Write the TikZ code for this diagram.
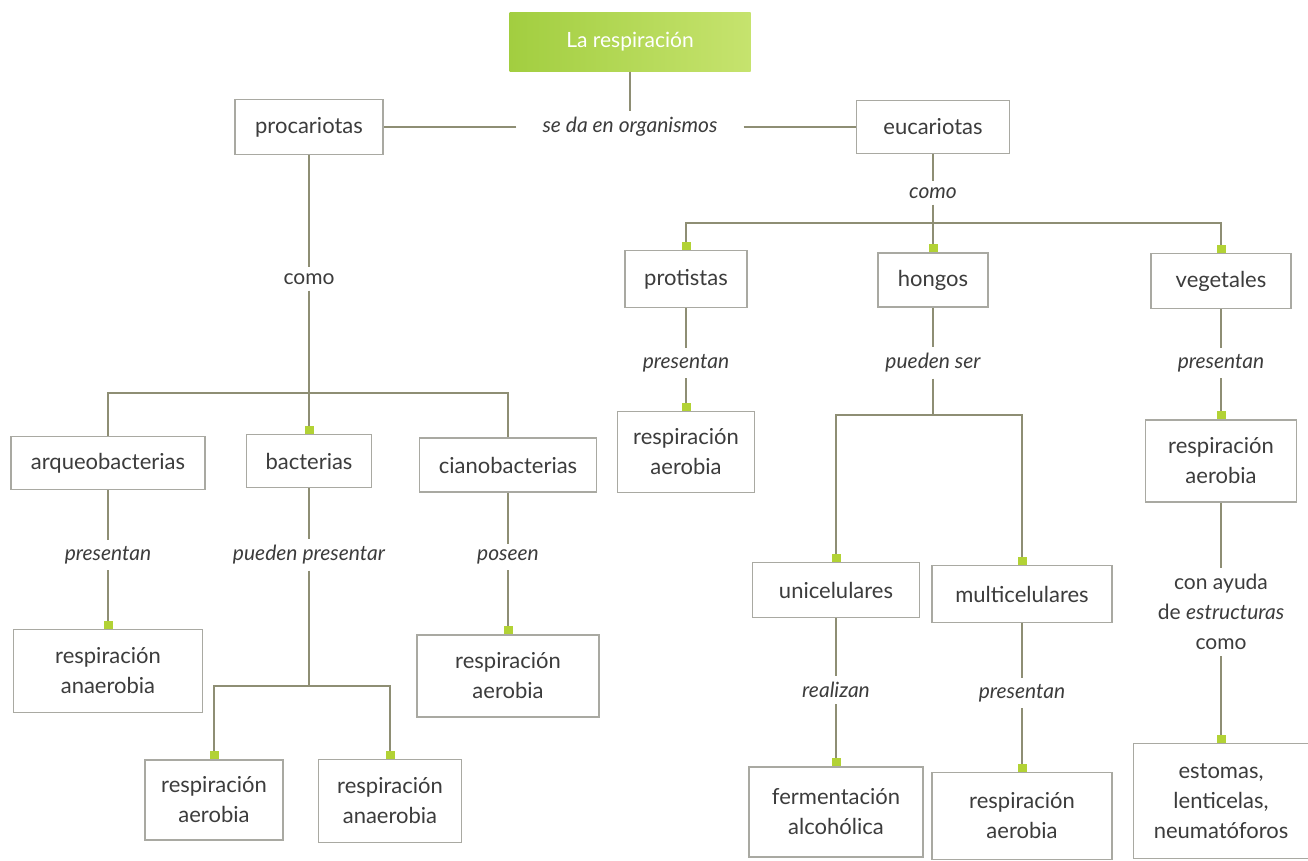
\documentclass[tikz,border=0pt]{standalone}
\usepackage{fontspec}
\setmainfont{Lato}
\usetikzlibrary{arrows.meta}
\definecolor{boxgray}{HTML}{A9A9A2}
\definecolor{wireolive}{HTML}{8E8E74}
\definecolor{tipgreen}{HTML}{B2D235}
\definecolor{inkgray}{HTML}{3C3C3C}
\definecolor{headdark}{HTML}{A2CE40}
\definecolor{headlight}{HTML}{C6E36E}
\tikzset{
  concept/.style={draw=boxgray, line width=1.2pt, fill=white, text=inkgray,
    align=center, inner sep=0pt, font=\fontsize{22}{30}\selectfont},
  heading/.style={left color=headdark, right color=headlight, text=white,
    minimum width=241pt, minimum height=59pt, font=\fontsize{21}{26}\selectfont},
  link/.style={text=inkgray, align=center, inner sep=6pt,
    font=\fontsize{21}{30}\selectfont\itshape},
  wire/.style={draw=wireolive, line width=1.2pt},
  into/.style={wire, -{Square[color=tipgreen, length=8pt, width=9pt]}},
}
\begin{document}
\begin{tikzpicture}[x=1pt,y=-1pt]
  \useasboundingbox[fill=white] (0,0) rectangle (1308,860);
  \node[heading] (titulo) at (630,42) {La respiración};
  \node[link, inner xsep=26pt] (seda) at (630,127) {se da en organismos};
  \node[concept, minimum width=148pt, minimum height=55pt] (procariotas) at (309,127) {procariotas};
  \node[concept, minimum width=153pt, minimum height=53pt] (eucariotas) at (933,127) {eucariotas};

  \node[link] (comoP) at (309,279) {\upshape como};
  \coordinate (barP) at (309,393);
  \node[concept, minimum width=194pt, minimum height=53pt] (arqueo) at (108,463) {arqueobacterias};
  \node[concept, minimum width=125pt, minimum height=53pt] (bacterias) at (309,461) {bacterias};
  \node[concept, minimum width=177pt, minimum height=54pt] (ciano) at (508,465) {cianobacterias};
  \node[link] (presArq) at (108,555) {presentan};
  \node[link] (puedenPres) at (309,555) {pueden presentar};
  \node[link] (poseen) at (508,557) {poseen};
  \node[concept, minimum width=189pt, minimum height=83pt] (anaerArq) at (108,671) {respiración\\anaerobia};
  \node[concept, minimum width=182pt, minimum height=82pt] (aerCiano) at (508,676) {respiración\\aerobia};
  \coordinate (barB) at (309,686);
  \node[concept, minimum width=138pt, minimum height=80pt] (aerBact) at (214,800) {respiración\\aerobia};
  \node[concept, minimum width=143pt, minimum height=83pt] (anaerBact) at (390,801) {respiración\\anaerobia};

  \node[link] (comoE) at (933,193) {como};
  \coordinate (barE) at (933,223);
  \node[concept, minimum width=122pt, minimum height=57pt] (protistas) at (686,279) {protistas};
  \node[concept, minimum width=110pt, minimum height=54pt] (hongos) at (933,280) {hongos};
  \node[concept, minimum width=140pt, minimum height=55pt] (vegetales) at (1221,281) {vegetales};
  \node[link] (presProt) at (686,363) {presentan};
  \node[link] (puedenSer) at (933,363) {pueden ser};
  \node[link] (presVeg) at (1221,363) {presentan};
  \node[concept, minimum width=137pt, minimum height=81pt] (aerProt) at (686,452) {respiración\\aerobia};
  \node[concept, minimum width=151pt, minimum height=82pt] (aerVeg) at (1221,461) {respiración\\aerobia};
  \coordinate (barH) at (933,415);
  \node[concept, minimum width=167pt, minimum height=55pt] (unicel) at (836,590) {unicelulares};
  \node[concept, minimum width=180pt, minimum height=57pt] (multicel) at (1022,594) {multicelulares};
  \node[link] (realizan) at (836,690) {realizan};
  \node[link] (presMulti) at (1022,693) {presentan};
  \node[concept, minimum width=174pt, minimum height=90pt] (fermen) at (836,812) {fermentación\\alcohólica};
  \node[concept, minimum width=180pt, minimum height=87pt] (aerMulti) at (1022,816) {respiración\\aerobia};
  \node[link] (conAyuda) at (1221,612) {\upshape con ayuda\\\upshape de \itshape estructuras\\\upshape como};
  \node[concept, minimum width=175pt, minimum height=115pt] (estomas) at (1221,801) {estomas,\\lenticelas,\\neumatóforos};

  \begin{scope}[wire]
    \draw (titulo) -- (seda);
    \draw (seda) -- (procariotas);
    \draw (seda) -- (eucariotas);
    \draw (procariotas) -- (comoP);
    \draw (comoP) -- (barP);
    \draw (barP) -| (arqueo);
    \draw (barP) -| (ciano);
    \draw[into] (barP) -- (bacterias);
    \draw (arqueo) -- (presArq);
    \draw[into] (presArq) -- (anaerArq);
    \draw (bacterias) -- (puedenPres);
    \draw (puedenPres) -- (barB);
    \draw[into] (barB) -| (aerBact);
    \draw[into] (barB) -| (anaerBact);
    \draw (ciano) -- (poseen);
    \draw[into] (poseen) -- (aerCiano);
    \draw (eucariotas) -- (comoE);
    \draw (comoE) -- (barE);
    \draw[into] (barE) -| (protistas);
    \draw[into] (barE) -- (hongos);
    \draw[into] (barE) -| (vegetales);
    \draw (protistas) -- (presProt);
    \draw[into] (presProt) -- (aerProt);
    \draw (hongos) -- (puedenSer);
    \draw (puedenSer) -- (barH);
    \draw[into] (barH) -| (unicel);
    \draw[into] (barH) -| (multicel);
    \draw (unicel) -- (realizan);
    \draw[into] (realizan) -- (fermen);
    \draw (multicel) -- (presMulti);
    \draw[into] (presMulti) -- (aerMulti);
    \draw (vegetales) -- (presVeg);
    \draw[into] (presVeg) -- (aerVeg);
    \draw (aerVeg) -- (conAyuda);
    \draw[into] (conAyuda) -- (estomas);
  \end{scope}
\end{tikzpicture}
\end{document}
